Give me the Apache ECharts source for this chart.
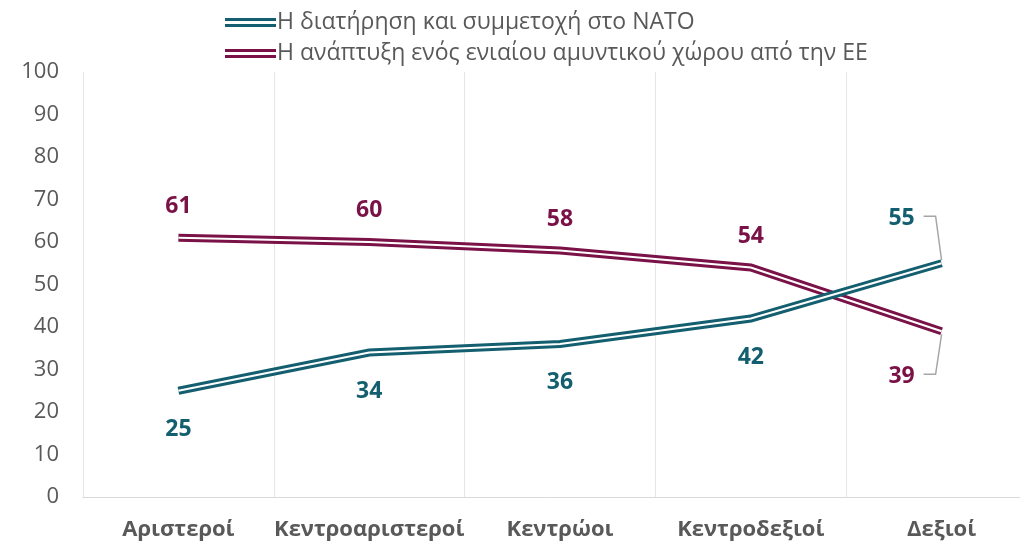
<!DOCTYPE html>
<html><head><meta charset="utf-8">
<script src="https://cdn.jsdelivr.net/npm/echarts@6/dist/echarts.min.js"></script>
<style>html,body{margin:0;padding:0;background:#fff}#c{width:1020px;height:544px}</style>
</head><body><div id="c"></div>
<script>
const categories = ['Αριστεροί', 'Κεντροαριστεροί', 'Κεντρώοι', 'Κεντροδεξιοί', 'Δεξιοί'];
const natoName = 'Η διατήρηση και συμμετοχή στο NATO';
const euName = 'Η ανάπτυξη ενός ενιαίου αμυντικού χώρου από την ΕΕ';
const natoValues = [25, 34, 36, 42, 55];
const euValues = [61, 60, 58, 54, 39];
const yTicks = [0, 10, 20, 30, 40, 50, 60, 70, 80, 90, 100];

const TEAL = '#135F6F';
const MAROON = '#7A1247';
const FONT = '"Open Sans", "Noto Sans", sans-serif';

const chart = echarts.init(document.getElementById('c'), null, {renderer: 'canvas'});
const last = categories.length - 1;

// the last point's labels are drawn by the custom series below (with leader lines)
function mkData(vals) {
  return vals.map((v, i) => i === last ? {value: v, label: {show: false}} : v);
}

// [category index, value, series flag (0 = NATO above, 1 = EU below)]
const calloutData = [[last, natoValues[last], 0], [last, euValues[last], 1]];

const iconPath = 'path://M0,0H51V3H0Z M0,6H51V9H0Z';

const option = {
  animation: false,
  textStyle: {fontFamily: FONT},
  legend: {
    orient: 'vertical', left: 220, top: 6, itemGap: 8,
    itemWidth: 51, itemHeight: 9,
    data: [{name: natoName, icon: iconPath}, {name: euName, icon: iconPath}],
    textStyle: {fontSize: 23, color: '#595959', fontFamily: FONT, padding: [0, 0, 0, -4]}
  },
  grid: {left: 83, width: 954, top: 72, bottom: 47, containLabel: false, outerBoundsMode: 'none'},
  xAxis: {
    type: 'category', data: categories, boundaryGap: true,
    axisLine: {show: true, lineStyle: {color: '#d9d9d9', width: 1}},
    axisTick: {show: false},
    splitLine: {show: true, lineStyle: {color: '#e6e6e6', width: 1}},
    axisLabel: {color: '#595959', fontSize: 22, fontWeight: 'bold', margin: 22, fontFamily: FONT, interval: 0}
  },
  yAxis: {
    type: 'value', min: yTicks[0], max: yTicks[yTicks.length - 1], interval: 10,
    axisLine: {show: false}, axisTick: {show: false}, splitLine: {show: false},
    axisLabel: {color: '#595959', fontSize: 22, margin: 24, fontFamily: FONT}
  },
  series: [
    {
      name: euName, type: 'line', data: mkData(euValues),
      symbol: 'circle', symbolSize: 0.01, z: 2,
      lineStyle: {color: MAROON, width: 8, join: 'miter'}, itemStyle: {color: MAROON},
      label: {show: true, position: 'top', distance: 20, color: MAROON, fontSize: 23, fontWeight: 'bold', fontFamily: FONT}
    },
    {
      name: 'eu-inner', type: 'line', data: euValues, symbol: 'none', silent: true, z: 3,
      lineStyle: {color: '#ffffff', width: 2.2, join: 'miter'}, itemStyle: {color: '#ffffff'}
    },
    {
      name: natoName, type: 'line', data: mkData(natoValues),
      symbol: 'circle', symbolSize: 0.01, z: 4,
      lineStyle: {color: TEAL, width: 8, join: 'miter'}, itemStyle: {color: TEAL},
      label: {show: true, position: 'bottom', distance: 27, color: TEAL, fontSize: 23, fontWeight: 'bold', fontFamily: FONT}
    },
    {
      name: 'nato-inner', type: 'line', data: natoValues, symbol: 'none', silent: true, z: 5,
      lineStyle: {color: '#ffffff', width: 2.2, join: 'miter'}, itemStyle: {color: '#ffffff'}
    },
    {
      name: 'callouts', type: 'custom', data: calloutData, silent: true, z: 6,
      renderItem: function (params, api) {
        const p = api.coord([api.value(0), api.value(1)]);
        const isEu = api.value(2) === 1;
        const dir = isEu ? 1 : -1;
        const lx = p[0] - 40;
        const ly = p[1] + dir * 45;
        const lineY = ly - 2;
        return {
          type: 'group',
          children: [
            {
              type: 'polyline',
              shape: {points: [[p[0], p[1] + dir * 3], [p[0] - 6, lineY], [lx + 22, lineY]]},
              style: {stroke: '#a6a6a6', lineWidth: 1.5, fill: null}
            },
            {
              type: 'text',
              style: {
                text: String(api.value(1)), x: lx, y: ly, align: 'center', verticalAlign: 'middle',
                fill: isEu ? MAROON : TEAL, font: 'bold 23px ' + FONT
              }
            }
          ]
        };
      }
    }
  ]
};
chart.setOption(option);
</script>
</body></html>
